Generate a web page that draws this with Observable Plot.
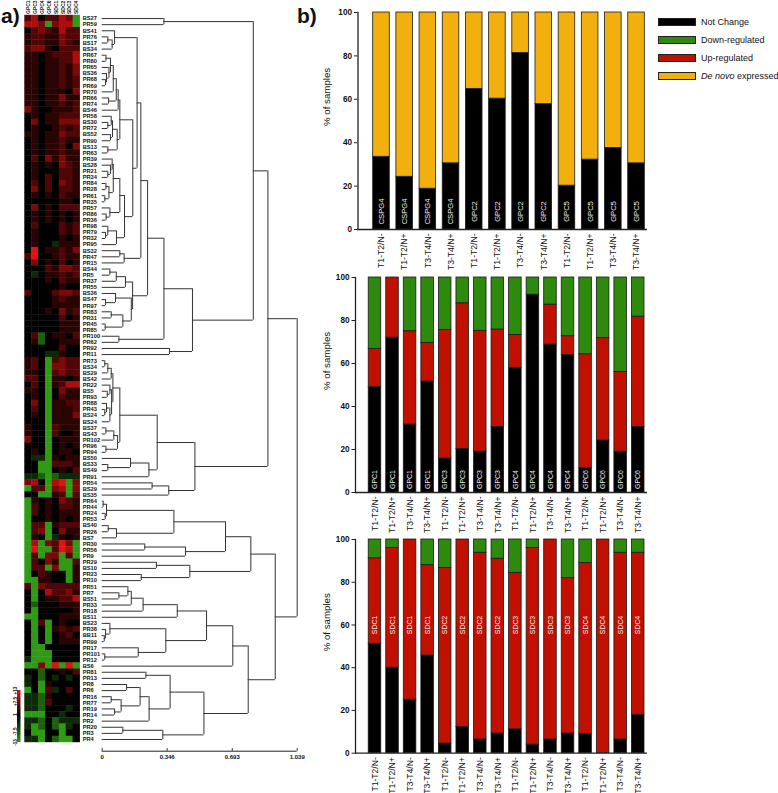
<!DOCTYPE html>
<html>
<head>
<meta charset="utf-8">
<script src="https://cdn.jsdelivr.net/npm/d3@7"></script>
<script src="https://cdn.jsdelivr.net/npm/@observablehq/plot@0.6"></script>
<style>
html,body{margin:0;padding:0;background:#fff}
#root{position:relative;width:778px;height:793px;overflow:hidden;font-family:"Liberation Sans",Arial,sans-serif;color:#111}
#root svg{position:absolute;background:transparent;overflow:visible}
.tag{position:absolute;font-weight:bold;font-size:21px;line-height:21px}
.sw{position:absolute;left:658px;width:38px;height:8px;border:0.5px solid #222;box-sizing:border-box}
.lt{position:absolute;left:701px;font-size:9px;line-height:12px;white-space:nowrap}
</style>
</head>
<body>
<div id="root"></div>
<script>
// ---------- panel a: heatmap ----------
const heatColumns = ["GPC1","GPC3","GPC4","GPC6","SDC1","SDC2","SDC3","SDC4"];
// one string per row, one symbol per column: G g d = green levels, 0 = black, 1-5 = red levels
const heatRows = [
"2402243G","443G344G","02321422","12211322","12211321","23310222",
"11012224","11011224","11011213","11011213","11011212","11011212",
"11011103","11011311","11011212","31001112","01011222","03011333",
"01001212","11011322","01011211","01011203","01011211","02031311",
"01010321","01000221","01020221","02020321","03020221","01010211",
"00000110","03010222","01010101","01010101","02000212","01000212",
"01000101","0100d111","05011213","25001211","03010201","00021332",
"0d011212","00010211","00000100","20002332","00001211","00001111",
"00010312","00000201","00000111","00000111","02g01102","01g00111",
"00000200","000dd100","120G2322","120G3322","110G2322","220G1101",
"020G1244","110G0311","010G0211","030G1122","020G1112","010G1113",
"000G1111","100G2111","100G2001","300G0111","000G0101","010G0110",
"0ddG1011","00GG2221","00GG0102","ddgGgddd","340G45G3","G22G34G3",
"00GG12G2","G1010321","G2010221","G2010111","G0010101","G22G1222",
"G23G0311","G10Gd101","G4G3253G","G5GG254G","G2G33G2G","G2031GG2",
"G22G3GG1","G02100G1","GG1100G1","2G322222","0G042231","0G011224",
"0g000111","0G000001","GG000111","0G2G0100","0G0G1212","0G0G0120",
"0G0G0111","0GG00000","0GGG0000","dGGG0000","GG3G5G5G","00g00102",
"d0g0d0d0","d0G10000","G0G2d020","ddg10000","ddg20000","ddg000d0",
"GGG00d00","ddg0gddd","dGg0gGd0","0GG00G00","ddG0gGG0"];
const heatLevels = {G:-13,g:-8,d:-3.5,0:0,1:2.3,2:4.4,3:6.8,4:9.6,5:12.5};
const colorStops = [-13,0,13];
const colorRange = ["#2f9a14","#000000","#ec1212"];
const barTicks = [-13,-7.5,1,7.5,13];
const barSteps = [-13,-12,-11,-10,-9,-8,-7,-6,-5,-4,-3,-2,-1,0,1,2,3,4,5,6,7,8,9,10,11,12];

// ---------- panel a: dendrogram (merge heights on the 0-1.039 axis; row order is the leaf order) ----------
const dendroTicks = [0,0.346,0.693,1.039];
const tree = [1.039,
 [.883,
  [.805,
   [.329,"BS27","PR59"],
   [.481,
    [.329,
     [.242,
      [.206,
       [.186,
        [.066,"BS41",[.053,[.030,"PR76","BS17"],"BS34"]],
        [.163,
         [.094,
          [.085,[.075,[.059,[.044,[.020,"PR67","PR80"],[.036,"PR65",[.023,"BS36",[.018,"PR68","PR69"]]]],"PR70"],[.034,"PR66","PR74"]],"BS46"],
          [.080,[.055,[.048,"PR58",[.030,"BS30","PR72"]],[.044,"BS52","PR90"]],[.030,"BS13","PR63"]]],
         [.119,
          [.094,
           [.059,[.053,"PR39",[.044,"BS28",[.030,"PR21","PR34"]]],[.036,[.020,"PR84","PR28"],[.014,"PR61","PR35"]]],
           [.041,"PR57",[.021,"PR86","PR36"]]],
          [.076,[.030,"PR98",[.018,"PR79","PR32"]],"PR95"]]]],
       [.117,[.094,"BS32","PR47"],"PR15"]],
      [.162,
       [.124,[.075,[.041,"BS44","PR5"],"PR37"],"PR55"],
       [.155,[.071,"BS36",[.018,"BS47","PR97"]],[.110,[.048,"PR83","PR31"],[.016,"PR45","PR85"]]]]],
     [.089,"PR100","PR62"]],
    [.359,"PR92","PR11"]]],
  [.494,
   [.293,
    [.094,
     [.057,
      [.048,[.030,[.014,"PR73","BS34"],"BS29"],"BS42"],
      [.050,[.041,"PR22",[.027,"BS5","PR93"]],[.041,[.023,"PR88",[.014,"PR43","BS24"]],"BS24"]]],
     [.082,[.062,[.020,"BS37","BS43"],"PR102"],[.020,"PR96","PR94"]]],
    [.249,[.151,"BS50",[.030,"BS33","BS49"]],"PR91"]],
   [.355,[.266,"PR54","BS29"],"BS35"]]],
 [.922,
  [.792,
   [.657,
    [.382,
     [.023,[.005,"PR64","PR44"],[.016,"PR24","PR53"]],
     [.076,[.032,"BS40","PR26"],"BS7"]],
    [.444,[.227,"PR30","PR56"],"PR9"]],
   [.467,[.289,"PR29","BS10"],[.208,"PR23","PR10"]]],
  [.778,
   [.696,
    [.556,
     [.400,[.218,[.155,[.137,"PR51",[.089,"PR7","BS51"]],"PR33"],"PR18"],"BS11"],
     [.339,
      [.041,"BS23",[.018,"PR38",[.011,"BB11","PR99"]]],
      [.192,"PR17",[.014,"PR101","PR12"]]]],
    "BS6"],
   [.542,
    [.362,
     [.233,"PR81","PR13"],
     [.250,
      [.202,[.130,"PR8","PR6"],[.101,[.048,"PR16","PR77"],[.066,"PR19","PR14"]]],
      "PR2"]],
    [.323,[.110,"PR20","PR3"],"PR4"]]]]];

// ---------- panel b ----------
const seriesNames = ["Not Change","Up-regulated","Down-regulated","De novo expressed"];
const seriesColors = {"Not Change":"#000000","Down-regulated":"#2d8a0c","Up-regulated":"#c21000","De novo expressed":"#f2b00f"};
const comparisons = ["T1-T2/N-","T1-T2/N+","T3-T4/N-","T3-T4/N+"];
const yTicks = [0,20,40,60,80,100];

const genes1 = ["CSPG4","GPC2","GPC5"];
const notChange1 = [33.5,24.3,18.8,30.5,64.8,60.3,81.3,57.8,20.2,32.2,37.6,30.5];
const deNovo1 = [66.5,75.7,81.2,69.5,35.2,39.7,18.7,42.2,79.8,67.8,62.4,69.5];

const genes2 = ["GPC1","GPC3","GPC4","GPC6"];
const notChange2 = [49,72,31.6,51.6,15.8,20.3,19,30.5,58,92,68.8,64,11.3,24.2,19,30.5];
const up2 = [17.8,28,43.4,18,59.8,67.7,56.2,45.3,15.3,0,18.6,8.7,53,47.6,37.1,51.3];
const down2 = [33.2,0,25,30.4,24.4,12,24.8,24.2,26.7,8,12.6,27.3,35.7,28.2,43.9,18.2];

const genes3 = ["SDC1","SDC2","SDC3","SDC4"];
const notChange3 = [51.2,40,25,45.7,4.5,12.3,6.4,9.2,11.2,4,6.4,9.2,9,0,6.4,18];
const up3 = [40,56,75,42.3,82.2,87.7,87.4,81.8,73.2,92,93.6,72.7,80,100,87.4,75.8];
const down3 = [8.8,4,0,12,13.3,0,6.2,9,15.6,4,0,18.1,11,0,6.2,6.2];

// ---------- build ----------
const root = document.getElementById("root");
const place = (el,l,t)=>{el.style.left=l+"px";el.style.top=t+"px";root.appendChild(el);return el;};
const font = '"Liberation Sans",Arial,sans-serif';

// walk the tree: leaf order gives the rows
const rowLabels=[], hLinks=[], vLinks=[];
function walk(n){
  if(typeof n==="string"){rowLabels.push(n);return {y:rowLabels.length-1,h:0};}
  const a=walk(n[1]), b=walk(n[2]);
  hLinks.push({y:a.y,x1:a.h,x2:n[0]},{y:b.y,x1:b.h,x2:n[0]});
  vLinks.push({x:n[0],y1:a.y,y2:b.y});
  return {y:(a.y+b.y)/2,h:n[0]};
}
walk(tree);

const heatCells = heatRows.flatMap((r,i)=>heatColumns.map((c,j)=>({row:i,col:c,v:heatLevels[r[j]]})));
const rowIdx = rowLabels.map((_,i)=>i);
const colorScale = {type:"linear",domain:colorStops,range:colorRange};

place(Plot.plot({
  width:110,height:745,marginLeft:24.5,marginRight:30.3,marginTop:15,marginBottom:3,
  style:{fontFamily:font,background:"transparent"},
  x:{type:"band",domain:heatColumns,padding:0,round:false},
  y:{type:"band",domain:rowIdx,padding:0,round:false},
  color:colorScale,
  marks:[
    Plot.cell(heatCells,{x:"col",y:"row",fill:"v",inset:-0.2}),
    Plot.axisX({anchor:"top",label:null,tickSize:0,tickPadding:1.5,tickRotate:-90,fontSize:5,fontWeight:"bold",fill:"#111"}),
    Plot.axisY({anchor:"right",label:null,tickSize:0,tickPadding:2.5,tickFormat:i=>rowLabels[i],fontSize:5.7,fontWeight:"bold",fill:"#111"})
  ]
}),0,0);

// colour bar
place(Plot.plot({
  width:24,height:54,marginLeft:17,marginRight:3.5,marginTop:1,marginBottom:1,
  style:{fontFamily:font,background:"transparent"},
  x:{domain:[0,1],axis:null},
  y:{domain:[-13,13]},
  color:colorScale,
  marks:[
    Plot.rect(barSteps,{x1:0,x2:1,y1:d=>d,y2:d=>d+1,fill:d=>d+0.5}),
    Plot.axisY({ticks:barTicks,tickFormat:d=>(d>0&&d!==1?"+":"")+d,label:null,tickSize:0,tickPadding:1,tickRotate:-90,fontSize:4.6,fontWeight:"bold",fill:"#111"})
  ]
}),0,689);

// dendrogram
const yEnd = 119.92;
place(Plot.plot({
  width:320,height:793,marginLeft:101.7,marginRight:23.3,marginTop:18.05,marginBottom:42.3,
  style:{fontFamily:font,background:"transparent"},
  x:{domain:[0,1.039]},
  y:{domain:[0,yEnd],reverse:true,axis:null},
  marks:[
    Plot.ruleY(hLinks,{y:"y",x1:"x1",x2:"x2",stroke:"#333",strokeWidth:1}),
    Plot.ruleX(vLinks,{x:"x",y1:"y1",y2:"y2",stroke:"#333",strokeWidth:1}),
    Plot.ruleY([yEnd],{stroke:"#222",strokeWidth:1}),
    Plot.axisX({ticks:dendroTicks,tickFormat:d=>String(d),label:null,tickSize:-2.5,tickPadding:6,fontSize:6,fontWeight:"bold",fill:"#111",stroke:"#222"})
  ]
}),0,0);

// stacked bars
function stacked({top,h,axisX,left,right,genes,labelY,labelSize,parts}){
  const n = parts[0].values.length;
  const idx = d3.range(n);
  const perGene = comparisons.length;
  const rows = parts.flatMap(p=>p.values.map((v,i)=>({i,v,s:p.name})));
  const nameRows = idx.map(i=>({i,g:genes[Math.floor(i/perGene)]}));
  return place(Plot.plot({
    width:340,height:h+48,marginLeft:axisX-320,marginRight:660-647,marginTop:4,marginBottom:44,
    style:{fontFamily:font,background:"transparent"},
    x:{type:"band",domain:idx,range:[left-320,right-320],paddingInner:0.285,paddingOuter:0,round:false},
    y:{domain:[0,100],range:[h+4,4]},
    marks:[
      Plot.barY(rows,{x:"i",y:"v",z:"s",fill:d=>seriesColors[d.s],stroke:"#1a1a1a",strokeWidth:0.8}),
      Plot.text(nameRows,{x:"i",y:labelY,text:"g",rotate:-90,fill:"#eee",fontSize:labelSize}),
      Plot.ruleY([0],{stroke:"#222",strokeWidth:1.3}),
      Plot.frame({anchor:"left",stroke:"#222",strokeWidth:1.3}),
      Plot.axisX({label:null,tickSize:0,tickPadding:4,tickRotate:-90,tickFormat:i=>comparisons[i%perGene],fontSize:8.6,fill:"#111"}),
      Plot.axisY({ticks:yTicks,label:null,tickSize:3.5,tickPadding:2.5,fontSize:8.2,fontWeight:"bold",fill:"#111",stroke:"#222"}),
      Plot.text(["% of samples"],{frameAnchor:"left",rotate:-90,dx:326-axisX,dy:5,fontSize:9.7,fill:"#111"})
    ]
  }),320,top-4);
}
stacked({top:12,h:217,axisX:357.5,left:372.7,right:644.3,genes:genes1,labelY:8.3,labelSize:7.6,
  parts:[{name:seriesNames[0],values:notChange1},{name:seriesNames[3],values:deNovo1}]});
stacked({top:277,h:215,axisX:355,left:368.2,right:644,genes:genes2,labelY:6,labelSize:6.9,
  parts:[{name:seriesNames[0],values:notChange2},{name:seriesNames[1],values:up2},{name:seriesNames[2],values:down2}]});
stacked({top:539,h:213.7,axisX:355,left:368.2,right:644,genes:genes3,labelY:60,labelSize:6.9,
  parts:[{name:seriesNames[0],values:notChange3},{name:seriesNames[1],values:up3},{name:seriesNames[2],values:down3}]});

// panel tags
const tag=(t,l,tp)=>{const d=document.createElement("div");d.className="tag";d.textContent=t;d.style.left=l+"px";d.style.top=tp+"px";root.appendChild(d);};
tag("a)",1,5);tag("b)",297,5);

// legend
[["Not Change",18],["Down-regulated",36],["Up-regulated",54],["De novo expressed",71.5]].forEach(([name,y])=>{
  const s=document.createElement("div");s.className="sw";s.style.top=y+"px";s.style.background=seriesColors[name];root.appendChild(s);
  const t=document.createElement("div");t.className="lt";t.style.top=(y-2)+"px";
  if(name.startsWith("De novo")){t.innerHTML="<i>De novo</i> expressed";}else{t.textContent=name;}
  root.appendChild(t);
});
</script>
</body>
</html>
